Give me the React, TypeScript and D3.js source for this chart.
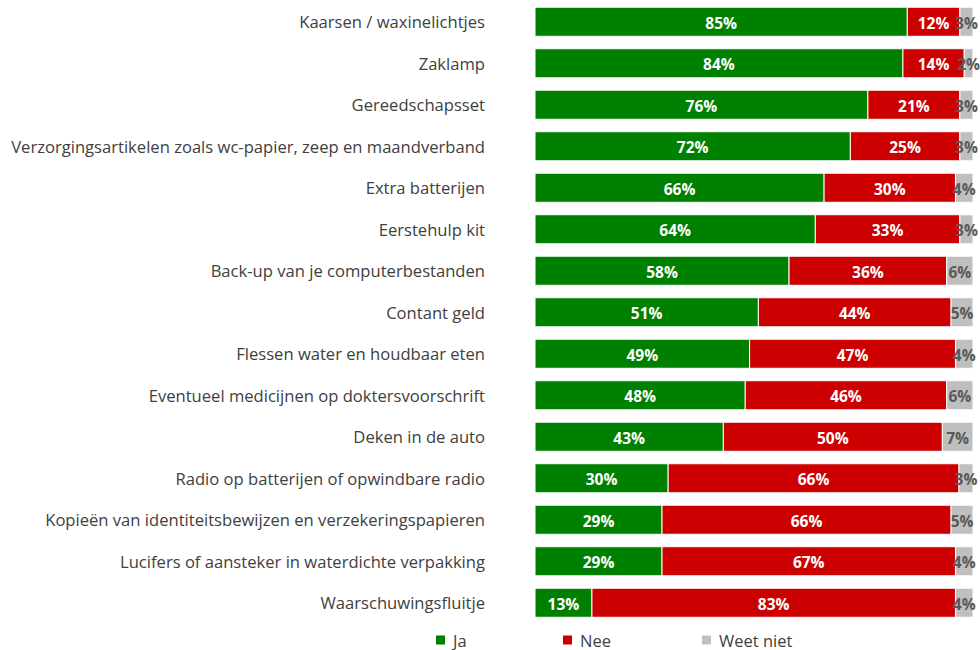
import React from "react";
import * as d3 from "d3";

const categories = [
  "Kaarsen / waxinelichtjes",
  "Zaklamp",
  "Gereedschapsset",
  "Verzorgingsartikelen zoals wc-papier, zeep en maandverband",
  "Extra batterijen",
  "Eerstehulp kit",
  "Back-up van je computerbestanden",
  "Contant geld",
  "Flessen water en houdbaar eten",
  "Eventueel medicijnen op doktersvoorschrift",
  "Deken in de auto",
  "Radio op batterijen of opwindbare radio",
  "Kopieën van identiteitsbewijzen en verzekeringspapieren",
  "Lucifers of aansteker in waterdichte verpakking",
  "Waarschuwingsfluitje",
];
const ja = [85, 84, 76, 72, 66, 64, 58, 51, 49, 48, 43, 30.4, 29, 29, 13];
const nee = [12, 14, 21, 25, 30, 33, 36, 44, 47, 46, 50, 66.4, 66, 67, 83];
const weetNiet = [3, 2, 3, 3, 4, 3, 6, 5, 4, 6, 7, 3.2, 5, 4, 4];
const seriesNames = ["Ja", "Nee", "Weet niet"];
const seriesColors = ["#008000", "#CC0000", "#BFBFBF"];
const labelColors = ["#FFFFFF", "#FFFFFF", "#595959"];

const W = 980;
const H = 650;
const FONT = "'Open Sans', 'Noto Sans', sans-serif";

export default function App() {
  const rows = categories.map((c, i) => ({ cat: c, vals: [ja[i], nee[i], weetNiet[i]] }));
  const x = d3.scaleLinear().domain([0, 100]).range([535, 973]);
  const y = d3.scaleBand().domain(categories).range([1, 623.5]).paddingInner(0.3).paddingOuter(0.15);

  const legendX = [436, 563, 702];

  return (
    <svg width={W} height={H} style={{ position: "absolute", left: 0, top: 0 }} fontFamily={FONT}>
      <rect width={W} height={H} fill="#fff" />
      {rows.map((r) => {
        let acc = 0;
        const yy = y(r.cat)!;
        const bh = y.bandwidth();
        return (
          <g key={r.cat}>
            <text x={485} y={yy + bh / 2} textAnchor="end" dominantBaseline="central" fontSize={16.6} fill="#404040">
              {r.cat}
            </text>
            {r.vals.map((v, k) => {
              const x0 = x(acc);
              acc += v;
              const x1 = x(acc);
              return (
                <g key={k}>
                  <rect x={x0} y={yy} width={x1 - x0} height={bh} fill={seriesColors[k]} stroke="#fff" strokeWidth={1} />
                  <text
                    x={(x0 + x1) / 2}
                    y={yy + bh / 2 + 1}
                    textAnchor="middle"
                    dominantBaseline="central"
                    fontSize={15.5}
                    fontWeight="bold"
                    fill={labelColors[k]}
                  >
                    {Math.round(v) + "%"}
                  </text>
                </g>
              );
            })}
          </g>
        );
      })}
      {seriesNames.map((s, k) => (
        <g key={s}>
          <rect x={legendX[k]} y={635.5} width={9} height={9} fill={seriesColors[k]} />
          <text x={legendX[k] + 17} y={640} dominantBaseline="central" fontSize={16.5} fill="#404040">
            {s}
          </text>
        </g>
      ))}
    </svg>
  );
}
